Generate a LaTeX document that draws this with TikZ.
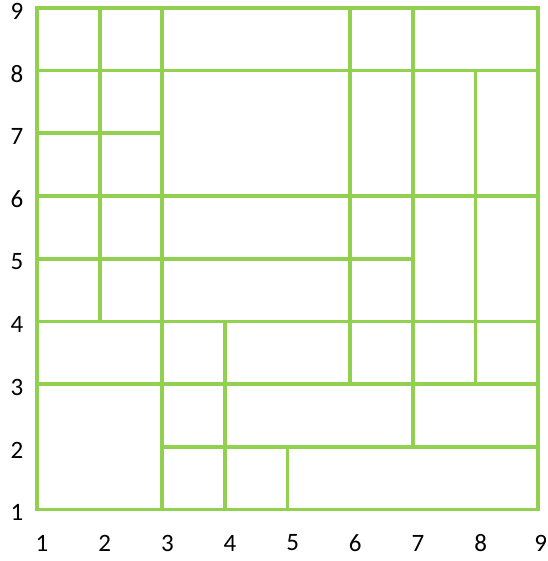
\documentclass[tikz,border=0pt]{standalone}
\usepackage{fontspec}
\setmainfont{Carlito}
\definecolor{grn}{HTML}{92D050}
\begin{document}
\begin{tikzpicture}[x=62.65pt,y=62.7pt,
  gline/.style={draw=grn,line width=3.7pt,line cap=rect},
  lab/.style={font=\fontsize{25}{25}\selectfont,inner sep=0pt,text=black}]
\useasboundingbox (0.409,0.179) rectangle (9.140,9.126);
% outer border
\draw[gline] (1,1) rectangle (9,9);
% horizontal lines
\draw[gline] (1,8) -- (9,8);
\draw[gline] (1,7) -- (3,7);
\draw[gline] (1,6) -- (9,6);
\draw[gline] (1,5) -- (7,5);
\draw[gline] (1,4) -- (9,4);
\draw[gline] (1,3) -- (9,3);
\draw[gline] (3,2) -- (9,2);
% vertical lines
\draw[gline] (2,9) -- (2,4);
\draw[gline] (3,9) -- (3,1);
\draw[gline] (4,4) -- (4,1);
\draw[gline] (5,2) -- (5,1);
\draw[gline] (6,9) -- (6,3);
\draw[gline] (7,9) -- (7,2);
\draw[gline] (8,8) -- (8,3);
% labels
\foreach \i in {1,...,8} {
  \node[lab] (xl\i) at (\i+0.08,0.466) {\i};
}
\node[lab] (xl9) at (9+0.04,0.466) {9};
\foreach \i in {1,...,9} {
  \node[lab] (yl\i) at (0.681,\i-0.05) {\i};
}
\end{tikzpicture}
\end{document}
